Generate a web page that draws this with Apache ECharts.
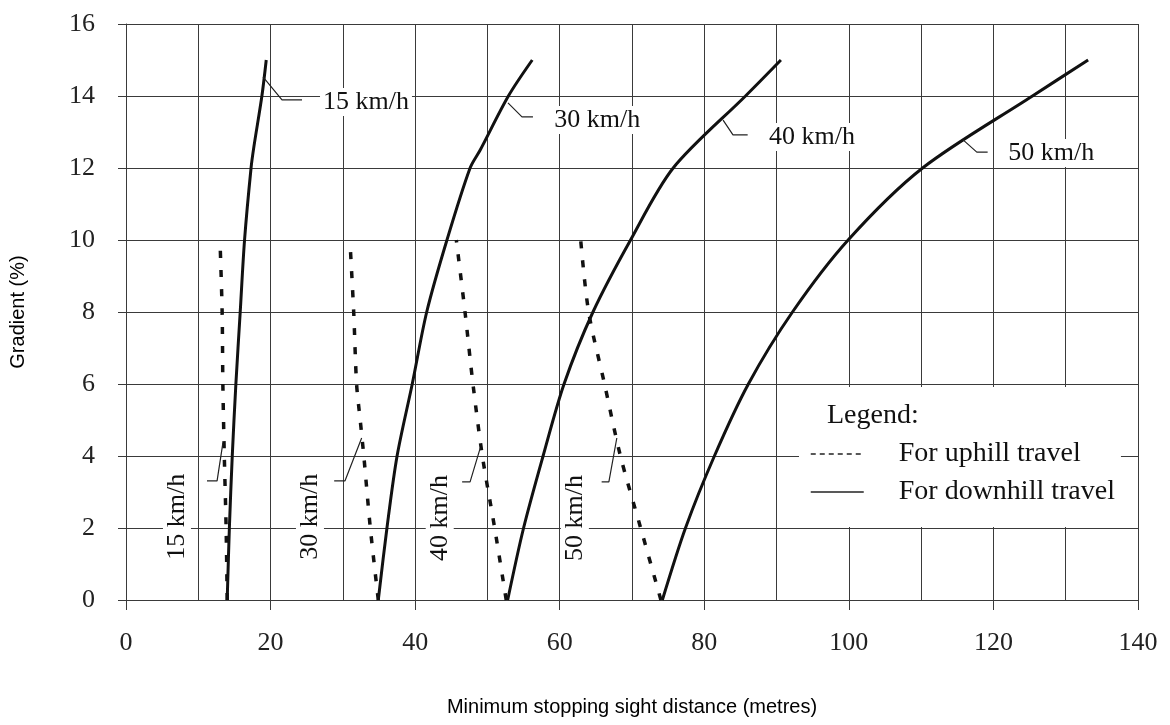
<!DOCTYPE html>
<html>
<head>
<meta charset="utf-8">
<script src="https://cdn.jsdelivr.net/npm/echarts@6/dist/echarts.min.js"></script>
<style>
html,body{margin:0;padding:0;background:#fff;}
#chart{width:1170px;height:725px;}
</style>
</head>
<body>
<div id="chart"></div>
<script>
// ---- data (distance in metres, gradient in %) ----
const uphill15   = [[14.0,0],[13.85,2],[13.6,4],[13.4,6],[13.3,8],[13.0,10]];
const downhill15 = [[14.0,0],[14.3,2],[14.7,4],[15.2,6],[15.8,8],[16.4,10],[17.3,12],[17.7,12.6],[18.8,14],[19.4,15]];
const uphill30   = [[34.9,0],[33.8,2],[32.9,4],[32.4,5],[31.9,6],[31.5,8],[31.0,9.9]];
const downhill30 = [[34.9,0],[36.1,2],[37.5,4],[39.6,6],[41.6,8],[44.4,10],[47.6,12],[49.0,12.5],[52.9,14],[56.2,15]];
const uphill40   = [[52.6,0],[51.0,2],[49.3,4],[48.0,6],[46.9,8],[45.7,10]];
const downhill40 = [[52.8,0],[55.0,2],[57.7,4],[60.6,6],[64.6,8],[69.8,10],[75.7,12],[85.7,14],[90.6,15]];
const uphill50   = [[74.0,0],[71.2,2],[68.4,4],[66.2,6],[64.0,8],[62.9,10]];
const downhill50 = [[74.2,0],[77.4,2],[81.4,4],[86.1,6],[92.2,8],[99.9,10],[110.2,12],[125.4,14],[133.1,15]];

const speedLabels = ['15 km/h','30 km/h','40 km/h','50 km/h'];
// annotation anchors in data coordinates
const topLabelAnchors  = [[33.2,13.83],[65.2,13.33],[94.9,12.86],[128.0,12.42]];
const sideLabelAnchors = [[7.05,2.31],[25.45,2.31],[43.4,2.28],[62.1,2.28]];
const topLeaders = [
  [[18.95,14.53],[21.58,13.89],[24.35,13.89]],
  [[52.84,13.81],[54.78,13.42],[56.3,13.42]],
  [[82.6,13.33],[83.97,12.92],[86.0,12.92]],
  [[115.8,12.78],[117.7,12.44],[119.2,12.44]]
];
const sideLeaders = [
  [[11.2,3.31],[12.6,3.31],[13.4,4.36]],
  [[28.8,3.31],[30.3,3.31],[32.6,4.5]],
  [[46.5,3.28],[47.6,3.28],[49.0,4.22]],
  [[65.8,3.28],[66.8,3.28],[67.9,4.5]]
];
const UP = 'For uphill travel', DOWN = 'For downhill travel';

// ---- styles ----
const gridColor = '#3a3a3a';
const ink = '#111';
const serif = '"Liberation Serif", "Times New Roman", serif';
const sans = '"Liberation Sans", Arial, sans-serif';

const series = [];
function curve(name, data, dashed){
  series.push({
    type:'line', name:name, data:data, symbol:'none', smooth:0.3, z:3,
    lineStyle: dashed ? {color:ink, width:3.5, type:[7,12], cap:'butt'} : {color:ink, width:3}
  });
}
curve(UP, uphill15, true);   curve(DOWN, downhill15, false);
curve(UP, uphill30, true);   curve(DOWN, downhill30, false);
curve(UP, uphill40, true);   curve(DOWN, downhill40, false);
curve(UP, uphill50, true);   curve(DOWN, downhill50, false);

topLeaders.concat(sideLeaders).forEach(function(l, i){
  series.push({type:'line', name:'leader'+i, data:l, symbol:'none', silent:true, z:4,
    lineStyle:{color:'#222', width:1.2}});
});

const labelStyle = {show:true, position:'inside', fontFamily:serif, fontSize:26, color:ink,
  opacity:1, backgroundColor:'#fff', padding:[1,3]};
series.push({
  type:'scatter', name:'topLabels', z:5, silent:true, symbolSize:1,
  itemStyle:{color:'rgba(0,0,0,0)', opacity:1},
  data: topLabelAnchors.map(function(p,i){ return {value:p, label:{formatter:speedLabels[i]}}; }),
  label: Object.assign({}, labelStyle)
});
series.push({
  type:'scatter', name:'sideLabels', z:5, silent:true, symbolSize:1,
  itemStyle:{color:'rgba(0,0,0,0)', opacity:1},
  data: sideLabelAnchors.map(function(p,i){ return {value:p, label:{formatter:speedLabels[i]}}; }),
  label: Object.assign({rotate:90}, labelStyle)
});

const option = {
  animation:false,
  backgroundColor:'#fff',
  grid:{left:126, top:24, width:1012, height:576},
  xAxis:{
    type:'value', min:0, max:140, interval:20,
    name:'Minimum stopping sight distance (metres)', nameLocation:'middle', nameGap:97,
    nameTextStyle:{fontFamily:sans, fontSize:20, color:'#000'},
    axisLine:{show:true, lineStyle:{color:gridColor, width:1}},
    axisTick:{show:true, inside:false, length:10, lineStyle:{color:gridColor, width:1}},
    axisLabel:{margin:30, fontFamily:serif, fontSize:26, color:'#222'},
    splitLine:{show:true, lineStyle:{color:gridColor, width:1}},
    minorTick:{show:false, splitNumber:2},
    minorSplitLine:{show:true, lineStyle:{color:gridColor, width:1}}
  },
  yAxis:{
    type:'value', min:0, max:16, interval:2,
    name:'Gradient (%)', nameLocation:'middle', nameGap:98,
    nameTextStyle:{fontFamily:sans, fontSize:20, color:'#000'},
    axisLine:{show:true, lineStyle:{color:gridColor, width:1}},
    axisTick:{show:true, inside:false, length:8, lineStyle:{color:gridColor, width:1}},
    axisLabel:{margin:31, fontFamily:serif, fontSize:26, color:'#222'},
    splitLine:{show:true, lineStyle:{color:gridColor, width:1}}
  },
  legend:{
    data:[
      {name:UP, itemStyle:{opacity:0}, lineStyle:{color:'#222', width:1.5, type:[5,4]}},
      {name:DOWN, itemStyle:{opacity:0}, lineStyle:{color:'#222', width:1.5, type:'solid'}}
    ],
    orient:'vertical', left:799, top:387,
    itemWidth:53, itemHeight:20, itemGap:8,
    padding:[52,6,20,11],
    backgroundColor:'#fff', selectedMode:false, z:6,
    textStyle:{fontFamily:serif, fontSize:28, lineHeight:30, color:ink, padding:[0,0,0,30]}
  },
  graphic:[
    {type:'text', left:827, top:402, z:100,
     style:{text:'Legend:', font:'28px "Liberation Serif"', fill:ink}}
  ],
  series: series
};

const chart = echarts.init(document.getElementById('chart'), null, {renderer:'canvas'});
chart.setOption(option);
</script>
</body>
</html>
